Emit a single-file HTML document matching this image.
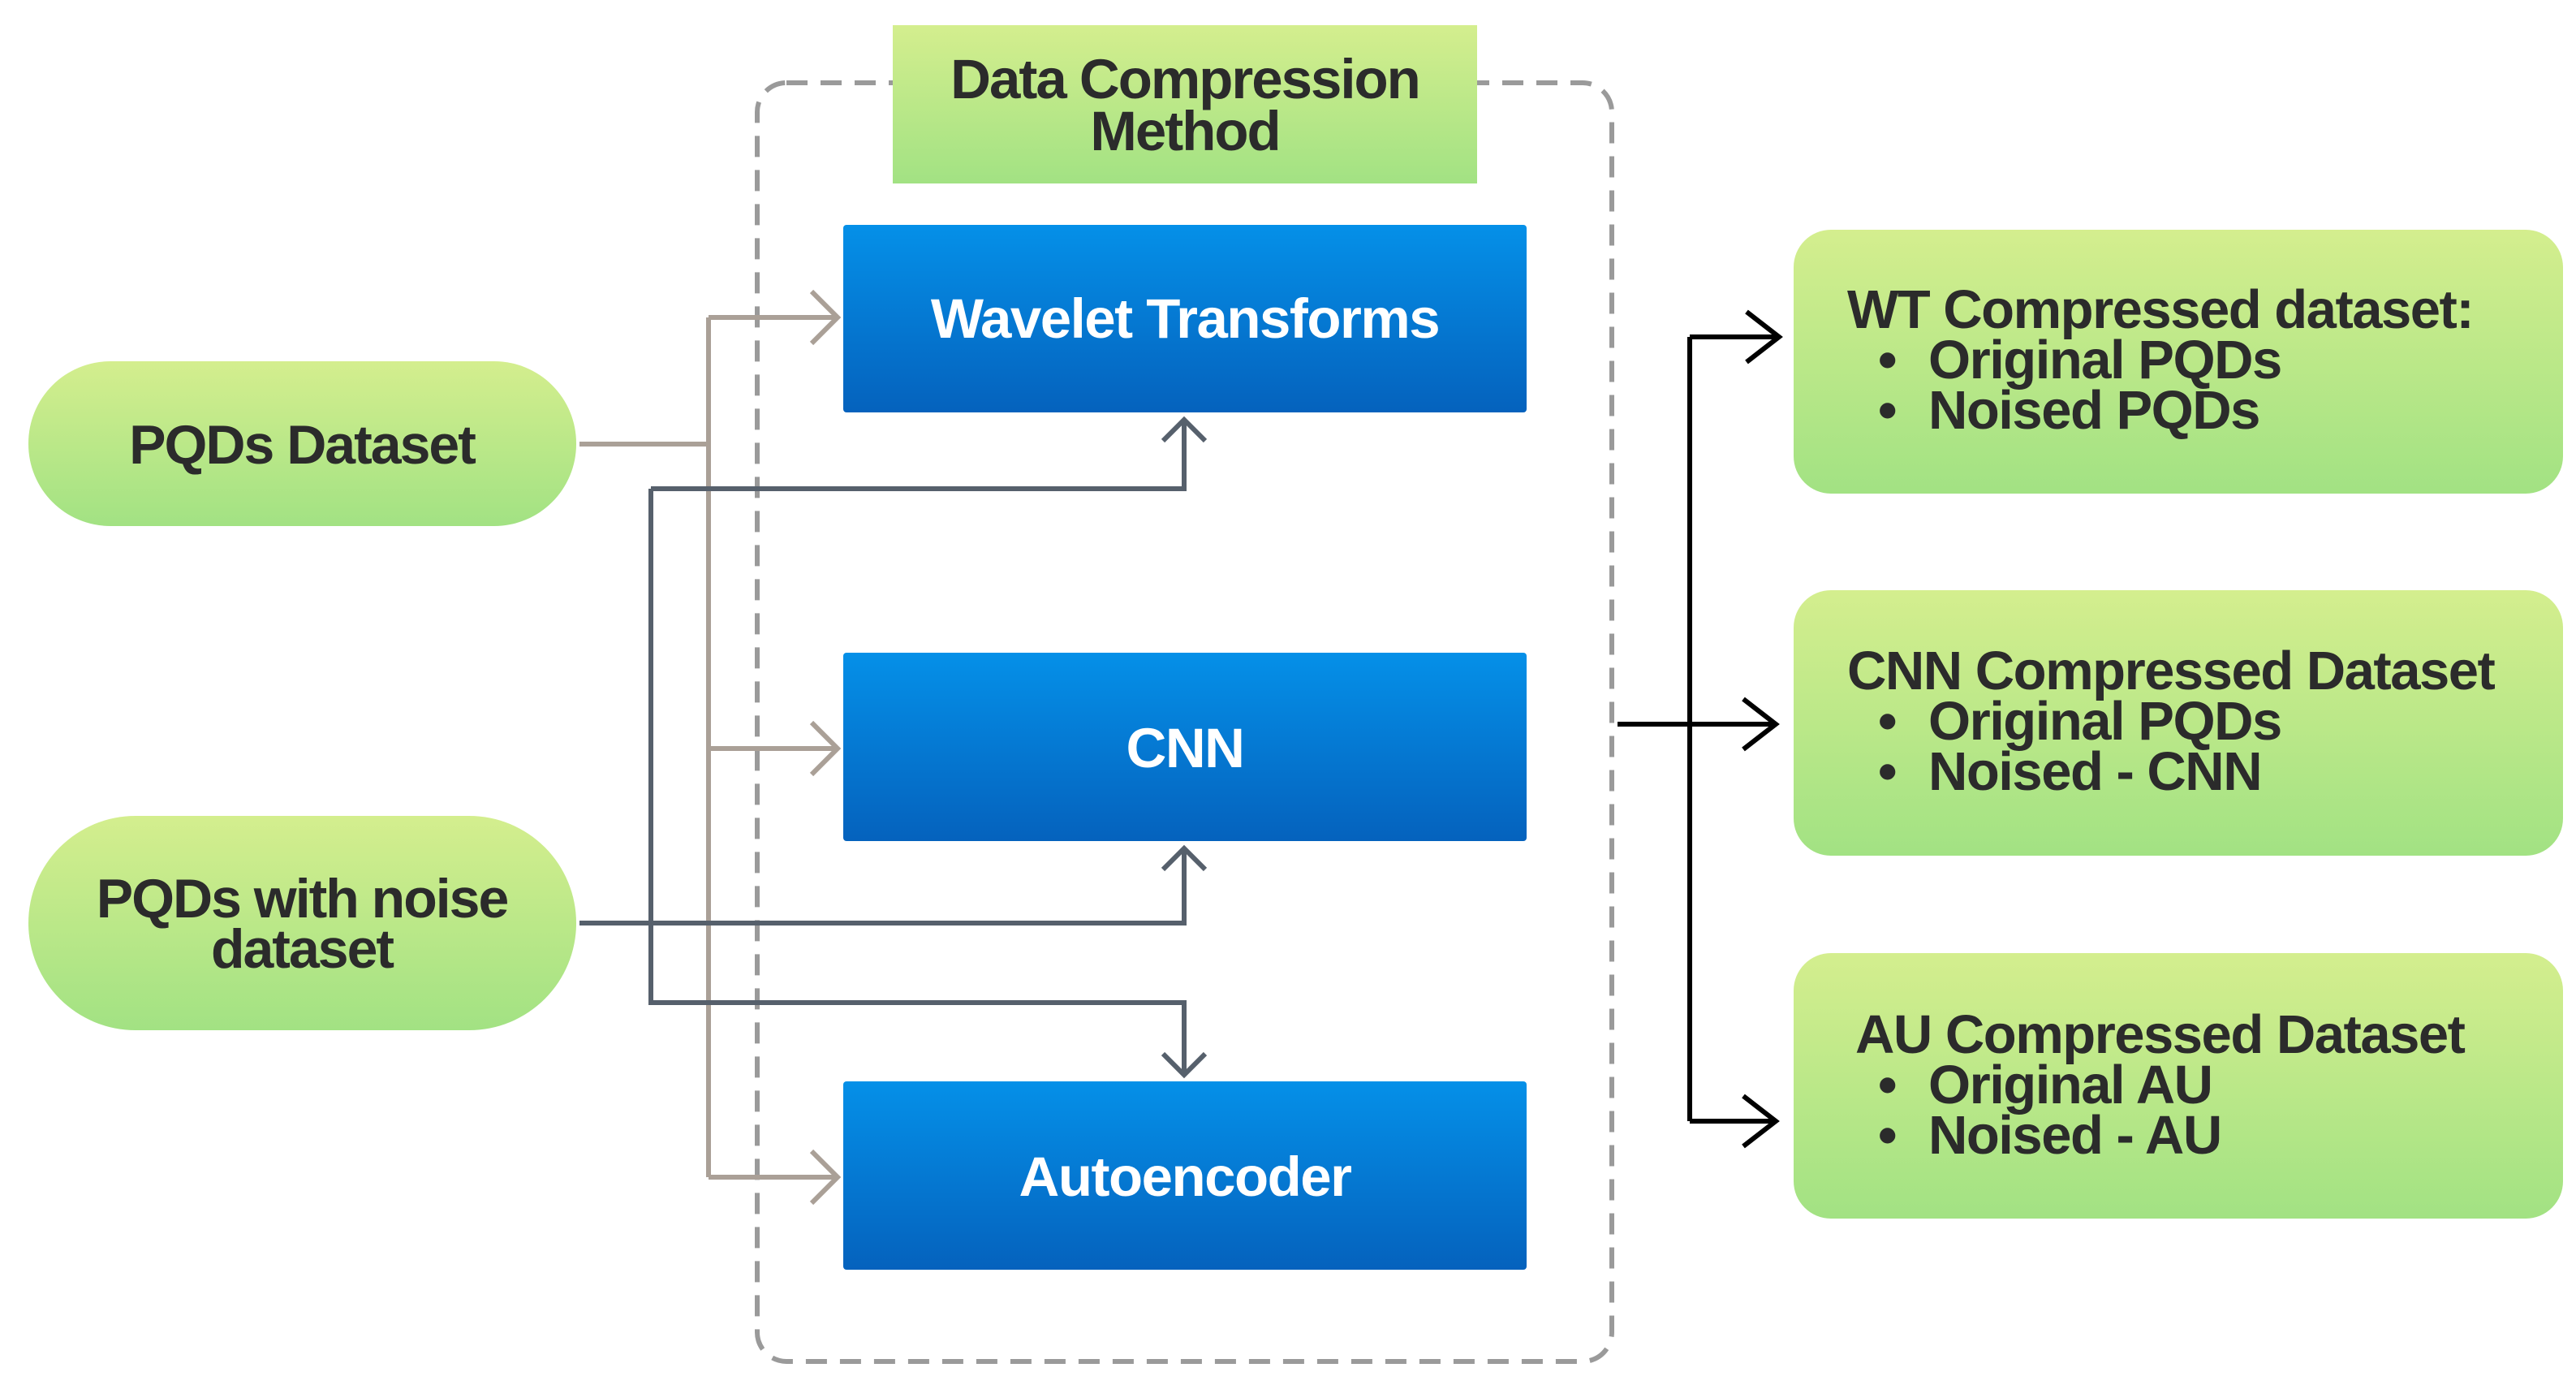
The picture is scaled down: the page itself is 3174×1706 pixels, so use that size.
<!DOCTYPE html>
<html><head><meta charset="utf-8"><style>
html,body{margin:0;padding:0;background:#fff;}
svg{display:block;}
text{font-family:"Liberation Sans",sans-serif;font-weight:bold;}
</style></head><body>
<svg width="3174" height="1706" viewBox="0 0 3174 1706" xmlns="http://www.w3.org/2000/svg">
<defs>
<linearGradient id="g" x1="0" y1="0" x2="0" y2="1"><stop offset="0" stop-color="#d4ee8e"/><stop offset="1" stop-color="#a2e283"/></linearGradient>
<linearGradient id="b" x1="0" y1="0" x2="0" y2="1"><stop offset="0" stop-color="#0590e8"/><stop offset="1" stop-color="#0562bd"/></linearGradient>
</defs>
<g transform="translate(-4,-1)">
<rect x="937" y="103" width="1053" height="1575" rx="36" fill="none" stroke="#9a9a9a" stroke-width="6" stroke-dasharray="26 16"/>
<rect x="1104" y="32" width="720" height="195" fill="url(#g)"/>
<text x="1464" y="122" text-anchor="middle" font-size="69" fill="#2b2b2b" letter-spacing="-2">Data Compression</text>
<text x="1464" y="186" text-anchor="middle" font-size="69" fill="#2b2b2b" letter-spacing="-2">Method</text>
<rect x="1043" y="278" width="842" height="231" rx="4" fill="url(#b)"/>
<text x="1464" y="417" text-anchor="middle" font-size="69" fill="#fff" letter-spacing="-1.5">Wavelet Transforms</text>
<rect x="1043" y="805" width="842" height="232" rx="4" fill="url(#b)"/>
<text x="1464" y="946" text-anchor="middle" font-size="69" fill="#fff" letter-spacing="-1.5">CNN</text>
<rect x="1043" y="1333" width="842" height="232" rx="4" fill="url(#b)"/>
<text x="1464" y="1474" text-anchor="middle" font-size="69" fill="#fff" letter-spacing="-1.5">Autoencoder</text>
<rect x="39" y="446" width="675" height="203" rx="101" fill="url(#g)"/>
<text x="376" y="572" text-anchor="middle" font-size="68" fill="#2b2b2b" letter-spacing="-2">PQDs Dataset</text>
<rect x="39" y="1006" width="675" height="264" rx="132" fill="url(#g)"/>
<text x="376" y="1131" text-anchor="middle" font-size="68" fill="#2b2b2b" letter-spacing="-2">PQDs with noise</text>
<text x="376" y="1193" text-anchor="middle" font-size="68" fill="#2b2b2b" letter-spacing="-2">dataset</text>
<g fill="none" stroke="#aaa097" stroke-width="6">
<path d="M718 548 H877 M877 392 V1451 M877 392 H1036 M877 923 H1036 M877 1451 H1036"/>
<path d="M1004 360 L1036 392 L1004 424 M1004 891 L1036 923 L1004 955 M1004 1419 L1036 1451 L1004 1483"/>
</g>
<g fill="none" stroke="#56606c" stroke-width="6">
<path d="M806 603 H1463 V518 M806 603 V1236 H1463 V1325 M718 1138 H1463 V1046"/>
<path d="M1437 544 L1463 518 L1489 544 M1437 1072 L1463 1046 L1489 1072 M1437 1299 L1463 1325 L1489 1299"/>
</g>
<g fill="none" stroke="#000" stroke-width="6">
<path d="M1997 893 H2192 M2086 416 V1382 M2086 416 H2196 M2086 1382 H2192"/>
<path d="M2156 385 L2196 416 L2156 447 M2152 862 L2192 893 L2152 924 M2152 1351 L2192 1382 L2152 1413"/>
</g>
<g font-size="67" fill="#2b2b2b" letter-spacing="-1.5">
<rect x="2214" y="284" width="948" height="325" rx="46" fill="url(#g)"/>
<text x="2280" y="405">WT Compressed dataset:</text>
<text x="2318" y="467">•</text><text x="2380" y="467">Original PQDs</text>
<text x="2318" y="529">•</text><text x="2380" y="529">Noised PQDs</text>
<rect x="2214" y="728" width="948" height="327" rx="46" fill="url(#g)"/>
<text x="2280" y="850">CNN Compressed Dataset</text>
<text x="2318" y="912">•</text><text x="2380" y="912">Original PQDs</text>
<text x="2318" y="974">•</text><text x="2380" y="974">Noised - CNN</text>
<rect x="2214" y="1175" width="948" height="327" rx="46" fill="url(#g)"/>
<text x="2290" y="1298">AU Compressed Dataset</text>
<text x="2318" y="1360">•</text><text x="2380" y="1360">Original AU</text>
<text x="2318" y="1422">•</text><text x="2380" y="1422">Noised - AU</text>
</g>
</g>
</svg>
</body></html>
